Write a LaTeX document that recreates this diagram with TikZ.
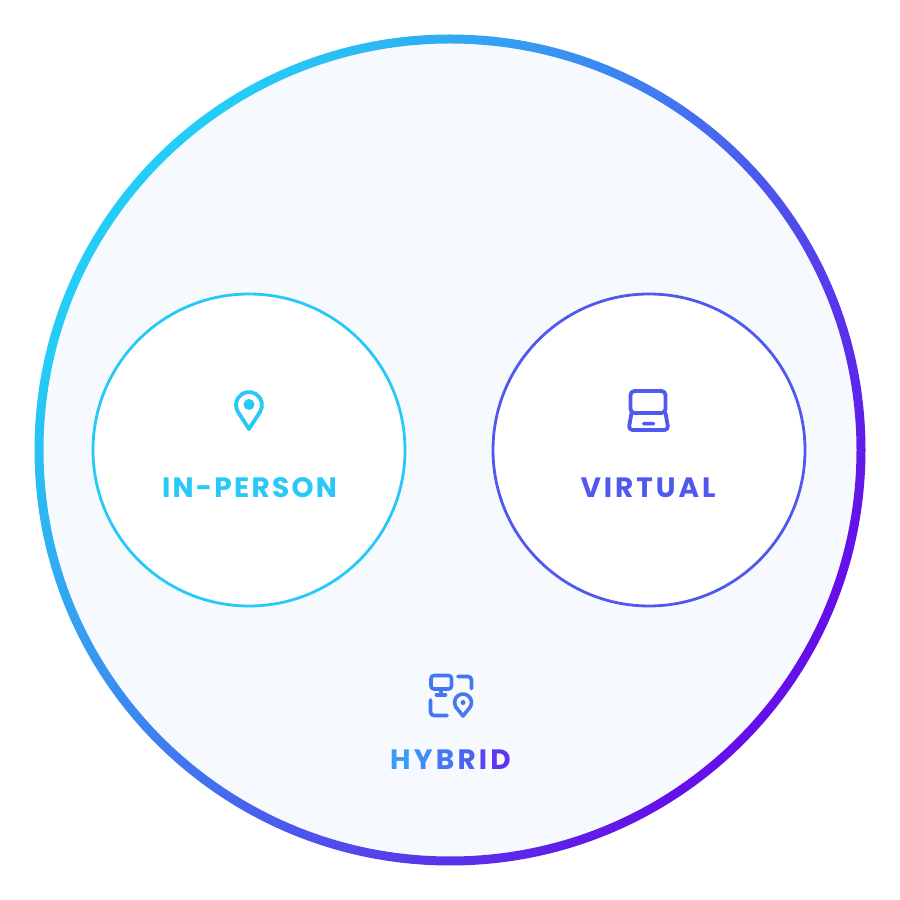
\documentclass[tikz,border=0pt]{standalone}
\usepackage{fontspec}
\newfontfamily\labfont[LetterSpace=8]{Poppins}
\newfontfamily\labwide[LetterSpace=10.5]{Poppins}
\newfontfamily\labplain{Poppins}
\definecolor{ringstart}{HTML}{24CDF6}
\definecolor{ringend}{HTML}{6510E8}
\definecolor{discfill}{HTML}{F6FAFF}
\definecolor{incol}{HTML}{28C8F8}
\definecolor{vircol}{HTML}{5058EE}
\definecolor{hybcol}{HTML}{4478F0}
\definecolor{hA}{HTML}{3A9CF6}
\definecolor{hB}{HTML}{3E8EF4}
\definecolor{hC}{HTML}{4678F1}
\definecolor{hD}{HTML}{4E62EF}
\definecolor{hE}{HTML}{5848ED}
\definecolor{hF}{HTML}{5E34EC}
\pgfdeclarehorizontalshading{ringgrad}{100bp}{color(0bp)=(ringstart); color(27bp)=(ringstart); color(73bp)=(ringend); color(100bp)=(ringend)}
\newcommand{\hl}[2]{\textcolor{#1}{#2}\kern3.2pt}
\tikzset{
  lab/.style={font=\labfont\bfseries\fontsize{28}{28}\selectfont, anchor=base, inner sep=0pt},
  labv/.style={font=\labwide\bfseries\fontsize{28}{28}\selectfont, anchor=base, inner sep=0pt},
  labh/.style={font=\labplain\bfseries\fontsize{28}{28}\selectfont, anchor=base, inner sep=0pt},
  icon/.style={line width=#1, line cap=round, line join=round},
  inner circle/.style={fill=white, line width=2.8pt}
}
\begin{document}
\begin{tikzpicture}[x=1pt,y=1pt]
\useasboundingbox (0,0) rectangle (900,900);
% outer disc and gradient ring
\fill[discfill] (450,450) circle[radius=412pt];
\path[shading=ringgrad, shading angle=-36, even odd rule]
  (450,450) circle[radius=415.5pt] (450,450) circle[radius=406.5pt];
% inner circles
\draw[inner circle, draw=incol] (249,450) circle[radius=156pt];
\draw[inner circle, draw=vircol] (649,450) circle[radius=156pt];
% in-person pin
\draw[icon=3.8pt, draw=incol] (249,471) -- ([shift={(-32.8:13pt)}]249,495)
  arc[start angle=-32.8, end angle=212.8, radius=13pt] -- cycle;
\fill[incol] (249,495.5) circle[radius=5.5pt];
\node[lab, text=incol] (inperson) at (249.5,402.7) {IN-PERSON};
% laptop
\draw[icon=3.8pt, draw=vircol, rounded corners=4pt] (630.5,487) rectangle (665.5,509);
\draw[icon=3.8pt, draw=vircol, rounded corners=4pt] (631.5,487) -- (628.5,470) -- (668.5,470) -- (665.5,487);
\fill[vircol, rounded corners=1.5pt] (642,474.5) rectangle (655,478);
\node[labv, text=vircol] (virtual) at (648,402.7) {VIRTUAL};
% hybrid icon
\draw[icon=3.6pt, draw=hybcol, rounded corners=3pt] (431,211) rectangle (451.5,224.5);
\draw[icon=3.6pt, draw=hybcol] (441,211) -- (441,205);
\draw[icon=3.6pt, draw=hybcol] (436.5,205) -- (445.5,205);
\draw[icon=3.6pt, draw=hybcol, rounded corners=3.5pt] (458,223.5) -- (471.5,223.5) -- (471.5,211.5);
\draw[icon=3.6pt, draw=hybcol, rounded corners=3.5pt] (430.5,200) -- (430.5,184.5) -- (447,184.5);
\draw[icon=3.6pt, draw=hybcol] (463,184) -- ([shift={(-30:8.5pt)}]463,197.5)
  arc[start angle=-30, end angle=210, radius=8.5pt] -- cycle;
\fill[hybcol] (463,197.5) circle[radius=2.5pt];
\node[labh] (hybrid) at (450.5,130) {\hl{hA}{H}\hl{hB}{Y}\hl{hC}{B}\hl{hD}{R}\hl{hE}{I}\textcolor{hF}{D}};
\end{tikzpicture}
\end{document}
